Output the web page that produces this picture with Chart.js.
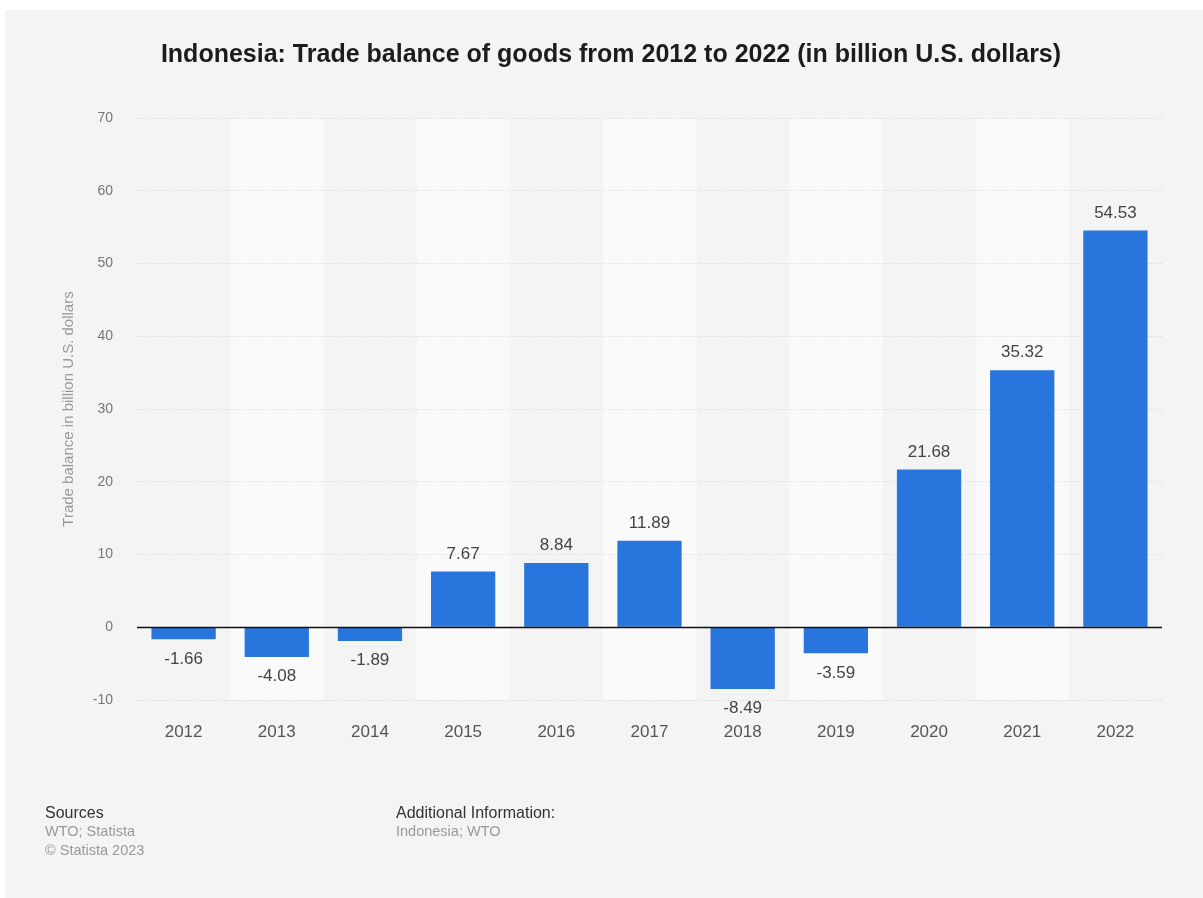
<!DOCTYPE html>
<html>
<head>
<meta charset="utf-8">
<title>Indonesia trade balance</title>
<script src="https://cdn.jsdelivr.net/npm/chart.js@4.4.0/dist/chart.umd.min.js"></script>
<style>
  html, body { margin: 0; padding: 0; background: #fff; }
  body { width: 1203px; height: 898px; position: relative; overflow: hidden;
         font-family: "Liberation Sans", Arial, sans-serif; }
  #panel { position: absolute; left: 5px; top: 10px; width: 1198px; height: 888px; background: #f4f4f4; }
  #chart { position: absolute; left: 0; top: 0; }
  h1 { position: absolute; left: 0; width: 1212px; top: 28px; margin: 0; text-align: center;
       font-size: 25px; font-weight: bold; color: #1c1c1c; line-height: 30px; }
  .foot { position: absolute; top: 793px; font-size: 14.5px; line-height: 19px; color: #999; }
  .foot b { font-weight: normal; color: #333; display: block; font-size: 16px; }
</style>
</head>
<body>
<div id="panel">
  <canvas id="chart" width="1198" height="888"></canvas>
  <h1>Indonesia: Trade balance of goods from 2012 to 2022 (in billion U.S. dollars)</h1>
  <div class="foot" style="left:40px"><b>Sources</b>WTO; Statista<br>© Statista 2023</div>
  <div class="foot" style="left:391px"><b>Additional Information:</b>Indonesia; WTO</div>
</div>
<script>
// Trade balance of goods, billion USD
const years = ['2012', '2013', '2014', '2015', '2016', '2017', '2018', '2019', '2020', '2021', '2022'];
const balance = [-1.66, -4.08, -1.89, 7.67, 8.84, 11.89, -8.49, -3.59, 21.68, 35.32, 54.53];
const yTicks = [-10, 0, 10, 20, 30, 40, 50, 60, 70];

const BAR_COLOR = '#2876dd';

// light stripes behind every second year
const columnBands = {
    id: 'columnBands',
    beforeDraw(chart) {
        const { ctx, chartArea, scales: { x } } = chart;
        const half = (x.getPixelForValue(1) - x.getPixelForValue(0)) / 2;
        ctx.save();
        ctx.fillStyle = '#fafafa';
        years.forEach((_, i) => {
            if (i % 2 === 1) {
                const cx = x.getPixelForValue(i);
                ctx.fillRect(cx - half, chartArea.top, half * 2, chartArea.bottom - chartArea.top);
            }
        });
        ctx.restore();
    }
};

// solid baseline at zero
const zeroLine = {
    id: 'zeroLine',
    afterDatasetsDraw(chart) {
        const { ctx, chartArea, scales: { y } } = chart;
        const py = Math.round(y.getPixelForValue(0)) + 0.5;
        ctx.save();
        ctx.strokeStyle = '#111';
        ctx.lineWidth = 1.5;
        ctx.beginPath();
        ctx.moveTo(chartArea.left, py);
        ctx.lineTo(chartArea.right, py);
        ctx.stroke();
        ctx.restore();
    }
};

// value labels above / below each bar
const valueLabels = {
    id: 'valueLabels',
    afterDatasetsDraw(chart) {
        const { ctx } = chart;
        const meta = chart.getDatasetMeta(0);
        ctx.save();
        ctx.font = '17px "Liberation Sans", Arial, sans-serif';
        ctx.fillStyle = '#444';
        ctx.textAlign = 'center';
        meta.data.forEach((bar, i) => {
            const v = balance[i];
            if (v >= 0) {
                ctx.textBaseline = 'bottom';
                ctx.fillText(v.toFixed(2), bar.x, bar.y - 9);
            } else {
                ctx.textBaseline = 'top';
                ctx.fillText(v.toFixed(2), bar.x, bar.y + 11);
            }
        });
        ctx.restore();
    }
};

new Chart(document.getElementById('chart'), {
    type: 'bar',
    data: {
        labels: years,
        datasets: [{
            data: balance,
            backgroundColor: BAR_COLOR,
            borderWidth: 0,
            barPercentage: 0.69,
            categoryPercentage: 1
        }]
    },
    options: {
        responsive: false,
        animation: false,
        layout: { padding: { left: 50, top: 108, right: 41, bottom: 138 } },
        plugins: {
            legend: { display: false },
            tooltip: { enabled: false }
        },
        scales: {
            x: {
                grid: { display: false },
                border: { display: false },
                ticks: {
                    color: '#555',
                    font: { family: '"Liberation Sans", Arial, sans-serif', size: 17 },
                    padding: 14
                },
                afterFit(scale) { scale.height = 60; }
            },
            y: {
                min: yTicks[0],
                max: yTicks[yTicks.length - 1],
                afterBuildTicks(scale) { scale.ticks = yTicks.map(v => ({ value: v })); },
                grid: { color: '#d0d0d0', lineWidth: 1, drawTicks: false },
                border: { display: false, dash: [1, 2] },
                ticks: {
                    color: '#777',
                    font: { family: '"Liberation Sans", Arial, sans-serif', size: 14 },
                    padding: 24
                },
                title: {
                    display: true,
                    text: 'Trade balance in billion U.S. dollars',
                    color: '#999',
                    font: { family: '"Liberation Sans", Arial, sans-serif', size: 15 },
                    padding: { top: 5, bottom: 0 }
                },
                afterFit(scale) { scale.width = 82; }
            }
        }
    },
    plugins: [columnBands, zeroLine, valueLabels]
});
</script>
</body>
</html>
